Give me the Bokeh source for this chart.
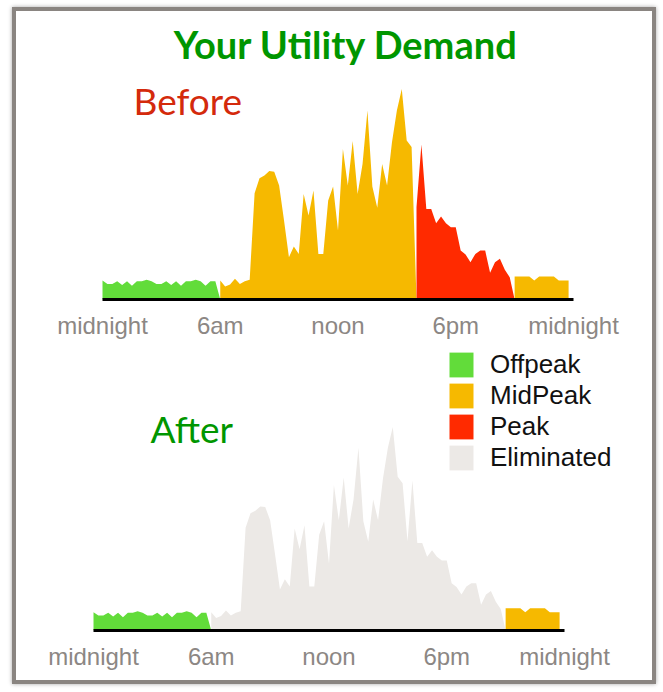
import numpy as np
from bokeh.plotting import figure
from bokeh.layouts import column
from bokeh.models import Range1d, FixedTicker, Label, Legend, LegendItem
from bokeh.embed import file_html
from bokeh.resources import INLINE

# ---------------- data (kW, 15-minute samples) ----------------
STEP_H = 0.25
offpeak_night_kw = [0.63, 0.52, 0.52, 0.61, 0.48, 0.61, 0.46, 0.61, 0.61, 0.66, 0.61, 0.52,
                    0.52, 0.61, 0.48, 0.61, 0.46, 0.61, 0.61, 0.66, 0.61, 0.46, 0.61, 0.61]
midpeak_day_kw = [0.63, 0.43, 0.50, 0.69, 0.52, 0.61, 0.66, 3.54, 4.04, 4.13, 4.28, 4.26,
                  3.80, 2.63, 1.41, 1.77, 1.52, 3.52, 2.80, 3.63, 1.52, 1.52, 3.30, 3.77,
                  2.30, 5.02, 3.80, 5.28, 3.52, 4.52, 6.30, 3.77, 3.06, 4.52, 3.80, 5.24,
                  6.30, 7.02, 5.30, 5.08]
peak_evening_kw = [3.08, 5.17, 3.02, 3.02, 2.54, 2.77, 2.54, 2.41, 2.41, 1.63, 1.50, 1.24,
                   1.52, 1.63, 1.63, 0.89, 1.24, 1.36, 0.99, 0.74]
midpeak_night_kw = [0.77, 0.77, 0.77, 0.77, 0.63, 0.77, 0.77, 0.77, 0.77, 0.63, 0.63, 0.63]

period_start_h = [0, 6, 16, 21]
period_end_h = [6, 16, 21, 24]

tick_hours = [0, 6, 12, 18, 24]
tick_labels = ["midnight", "6am", "noon", "6pm", "midnight"]
legend_labels = ["Offpeak", "MidPeak", "Peak", "Eliminated"]

C_OFF = "#62dc3a"
C_MID = "#f6b900"
C_PEAK = "#ff2a00"
C_ELIM = "#ece9e6"
C_TITLE = "#009600"
C_BEFORE = "#d42a0c"
C_TICK = "#8c8784"

PX_PER_H = 19.625
FRAME_W = 560


def period_polygon(start, values, end):
    xs = [start + STEP_H * k for k in range(len(values))]
    close = end if end < 24 else xs[-1]
    return [start] + xs + [close], [0.0] + list(values) + [0.0]


def make_fig(height, bottom, x0, ymax):
    p = figure(width=636, height=height,
               x_range=Range1d(x0, x0 + FRAME_W / PX_PER_H), y_range=Range1d(0, ymax),
               output_backend="svg", toolbar_location=None, y_axis_location=None,
               min_border_left=74, min_border_right=636 - 74 - FRAME_W,
               min_border_top=0, min_border_bottom=bottom)
    p.grid.visible = False
    p.outline_line_color = None
    p.background_fill_color = "white"
    p.border_fill_color = "white"
    ax = p.xaxis[0]
    ax.bounds = (0, 24)
    ax.ticker = FixedTicker(ticks=tick_hours)
    ax.major_label_overrides = {h: lab for h, lab in zip(tick_hours, tick_labels)}
    ax.major_tick_line_color = None
    ax.minor_tick_line_color = None
    ax.major_tick_out = 0
    ax.major_tick_in = 0
    ax.axis_line_color = "black"
    ax.axis_line_width = 3
    ax.major_label_standoff = 12
    ax.major_label_text_font = "Liberation Sans"
    ax.major_label_text_font_size = "24px"
    ax.major_label_text_color = C_TICK
    return p


# ---------------- Before ----------------
pa = make_fig(333, 45, -12 / PX_PER_H, 288 / 30)

before_series = [offpeak_night_kw, midpeak_day_kw, peak_evening_kw, midpeak_night_kw]
before_colors = [C_OFF, C_MID, C_PEAK, C_MID]
for s, e, vals, col in zip(period_start_h, period_end_h, before_series, before_colors):
    xs, ys = period_polygon(s, vals, e)
    pa.patch(xs, ys, fill_color=col, line_color=None)

pa.add_layout(Label(x=12.41, y=8.53, text="Your Utility Demand", text_font="Lato",
                    text_font_style="bold", text_font_size="38px", text_color=C_TITLE,
                    text_align="center", text_baseline="middle"))
pa.add_layout(Label(x=1.58, y=6.62, text="Before", text_font="Lato", text_font_size="37px",
                    text_color=C_BEFORE, text_baseline="middle"))

# ---------------- After ----------------
pb = make_fig(336, 50, -3 / PX_PER_H, 286 / 29)
xs, ys = period_polygon(period_start_h[0], offpeak_night_kw, period_end_h[0])
r_off = pb.patch(xs, ys, fill_color=C_OFF, line_color=None)
xs, ys = period_polygon(period_start_h[1], midpeak_day_kw + peak_evening_kw, period_end_h[2])
r_elim = pb.patch(xs, ys, fill_color=C_ELIM, line_color=None)
xs, ys = period_polygon(period_start_h[3], midpeak_night_kw, period_end_h[3])
r_mid = pb.patch(xs, ys, fill_color=C_MID, line_color=None)
# peak demand is fully eliminated after: legend swatch only
r_peak = pb.patch(np.array([np.nan]), np.array([np.nan]), fill_color=C_PEAK, line_color=None)

pb.add_layout(Label(x=2.9, y=6.98, text="After", text_font="Lato", text_font_size="37px",
                    text_color=C_TITLE, text_baseline="middle"))

legend = Legend(items=[LegendItem(label=lab, renderers=[r])
                       for lab, r in zip(legend_labels, [r_off, r_mid, r_peak, r_elim])],
                location=(356, 157), orientation="vertical",
                glyph_width=30, glyph_height=31, label_height=31, spacing=0,
                padding=0, margin=0, label_standoff=14,
                label_text_font="Liberation Sans", label_text_font_size="26px",
                label_text_color="#111111",
                background_fill_alpha=0, border_line_color=None)
pb.add_layout(legend)

layout = column(pa, pb, spacing=0,
                styles={"border": "4px solid #8a8581", "margin-left": "12px", "margin-top": "7px",
                        "box-shadow": "0 0 4px rgba(0,0,0,0.35)", "background-color": "white"})

open("out.html", "w").write(file_html(layout, INLINE))
